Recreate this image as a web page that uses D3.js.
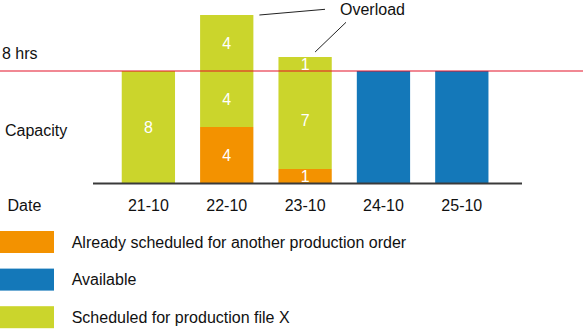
<!DOCTYPE html>
<html>
<head>
<meta charset="utf-8">
<script src="https://cdn.jsdelivr.net/npm/d3@7"></script>
<style>
  html, body { margin: 0; padding: 0; background: #fff; }
  svg { display: block; font-family: "Liberation Sans", Arial, sans-serif; }
</style>
</head>
<body>
<svg id="chart" width="583" height="329"></svg>
<script>
// Planned hours per day
const dates = ["21-10", "22-10", "23-10", "24-10", "25-10"];
const otherOrder = [0, 4, 1, 0, 0];     // already scheduled for another production order
const fileXWithin = [8, 4, 7, 0, 0];    // file X hours within capacity
const fileXOverload = [0, 4, 1, 0, 0];  // file X hours above capacity
const available = [0, 0, 0, 8, 8];      // free capacity
const capacity = 8;

const legendLabels = [
  "Already scheduled for another production order",
  "Available",
  "Scheduled for production file X"
];

const colors = {
  other: "#f39200",
  fileX: "#cbd52c",
  available: "#1478b9"
};

const svg = d3.select("#chart");

const x = d3.scaleBand()
  .domain(dates)
  .range([109.2, 501])
  .paddingInner(0.32)
  .paddingOuter(0.16);

const y = d3.scaleLinear()
  .domain([0, 12])
  .range([183, 15]);

const rows = dates.map((d, i) => ({
  date: d,
  other: otherOrder[i],
  within: fileXWithin[i],
  overload: fileXOverload[i],
  available: available[i]
}));

const keys = ["other", "within", "overload", "available"];
const keyColor = { other: colors.other, within: colors.fileX, overload: colors.fileX, available: colors.available };
const stacked = d3.stack().keys(keys)(rows);

// stacked bar segments
const layers = svg.append("g").selectAll("g")
  .data(stacked)
  .join("g")
  .attr("fill", s => keyColor[s.key]);

layers.selectAll("rect")
  .data(s => s.filter(p => p[1] > p[0]))
  .join("rect")
  .attr("x", p => x(p.data.date))
  .attr("width", x.bandwidth())
  .attr("y", p => y(p[1]))
  .attr("height", p => y(p[0]) - y(p[1]));

// value labels on the scheduled segments
const labelled = stacked.filter(s => s.key !== "available");
svg.append("g").selectAll("g")
  .data(labelled)
  .join("g")
  .selectAll("text")
  .data(s => s.filter(p => p[1] > p[0]))
  .join("text")
  .attr("x", p => x(p.data.date) + x.bandwidth() / 2)
  .attr("y", p => (y(p[0]) + y(p[1])) / 2)
  .attr("dy", "0.36em")
  .attr("text-anchor", "middle")
  .attr("fill", "#fff")
  .attr("font-size", 16)
  .text(p => p[1] - p[0]);

// capacity line, drawn across the bars
svg.append("line")
  .attr("x1", 0).attr("x2", 583)
  .attr("y1", y(capacity)).attr("y2", y(capacity))
  .attr("stroke", "rgb(228,18,40)")
  .attr("stroke-opacity", 0.5)
  .attr("stroke-width", 2);

// baseline
svg.append("line")
  .attr("x1", 93).attr("x2", 522)
  .attr("y1", y(0) + 0.5).attr("y2", y(0) + 0.5)
  .attr("stroke", "#3a3a3a")
  .attr("stroke-width", 2);

// date labels
svg.append("g").selectAll("text")
  .data(dates)
  .join("text")
  .attr("x", d => x(d) + x.bandwidth() / 2)
  .attr("y", 211)
  .attr("text-anchor", "middle")
  .attr("font-size", 16)
  .attr("fill", "#111")
  .text(d => d);

const sideLabels = [
  { text: "8 hrs", x: 2, y: 59 },
  { text: "Capacity", x: 5, y: 136 },
  { text: "Date", x: 7.5, y: 211 }
];
svg.append("g").selectAll("text")
  .data(sideLabels)
  .join("text")
  .attr("x", d => d.x)
  .attr("y", d => d.y)
  .attr("font-size", 16)
  .attr("fill", "#111")
  .text(d => d.text);

// overload callout
const totals = rows.map(r => r.other + r.within + r.overload + r.available);
const top22 = y(totals[1]);
const top23 = y(totals[2]);
svg.append("text")
  .attr("x", 340).attr("y", 15)
  .attr("font-size", 16)
  .attr("fill", "#111")
  .text("Overload");
svg.append("line")
  .attr("x1", x("22-10") + x.bandwidth() + 6).attr("y1", top22)
  .attr("x2", 325).attr("y2", 9.3)
  .attr("stroke", "#222").attr("stroke-width", 1);
svg.append("line")
  .attr("x1", x("23-10") + x.bandwidth() / 2 + 10).attr("y1", top23 - 5)
  .attr("x2", 346).attr("y2", 22.3)
  .attr("stroke", "#222").attr("stroke-width", 1);

// legend
const legend = svg.append("g").selectAll("g")
  .data(legendLabels.map((t, i) => ({ text: t, color: [colors.other, colors.available, colors.fileX][i], i })))
  .join("g")
  .attr("transform", d => `translate(0, ${231 + d.i * 37.6})`);
legend.append("rect")
  .attr("x", 0).attr("y", 0)
  .attr("width", 54).attr("height", 22)
  .attr("fill", d => d.color);
legend.append("text")
  .attr("x", 71.7).attr("y", 11)
  .attr("dy", "0.36em")
  .attr("font-size", 16)
  .attr("fill", "#111")
  .text(d => d.text);
</script>
</body>
</html>
